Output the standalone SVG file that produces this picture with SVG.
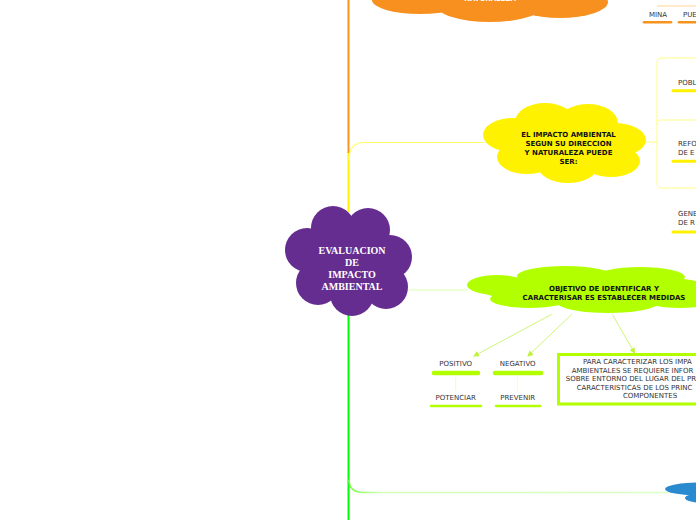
<svg xmlns="http://www.w3.org/2000/svg" width="696" height="520" viewBox="0 0 696 520">
<style>
.lbl{font-family:"DejaVu Sans","Liberation Sans",sans-serif;font-size:7px;fill:#333}
.cl{font-family:"DejaVu Sans","Liberation Sans",sans-serif;font-size:7px;font-weight:bold;fill:#111;text-anchor:middle}
.ctr{font-family:"Liberation Serif",serif;font-size:10px;font-weight:bold;fill:#fff;text-anchor:middle}
.con{fill:none;stroke-linecap:round}
</style>
<defs>
<marker id="ah" markerWidth="6" markerHeight="6" refX="5" refY="3" orient="auto" markerUnits="userSpaceOnUse">
<path d="M0,0 L6,3 L0,6 Z" fill="#bff23a"/>
</marker>
<linearGradient id="gb" x1="0" x2="1" y1="0" y2="0">
<stop offset="0" stop-color="#77ff44"/>
<stop offset="0.1" stop-color="#d4ffb8"/>
<stop offset="1" stop-color="#dcffc8"/>
</linearGradient>
</defs>
<rect width="696" height="520" fill="#fff"/>

<g id="connectors">
<line x1="348.5" y1="0" x2="348.5" y2="153" stroke="#f7941d" stroke-width="2"/>
<line x1="348.5" y1="153" x2="348.5" y2="212" stroke="#fff200" stroke-width="2"/>
<line x1="348.5" y1="312" x2="348.5" y2="520" stroke="#00ff00" stroke-width="2"/>
<path class="con" d="M349,160 Q349,142.5 364,142.5 H484" stroke="#ffff66" stroke-width="1.2"/>
<path class="con" d="M349,480 Q349,492.5 364,492.5 H668" stroke="url(#gb)" stroke-width="1.5"/>
<line x1="408" y1="290" x2="468" y2="290" stroke="#e6ffc8" stroke-width="1.5"/>
<path class="con" d="M646,142 H657 M657,142 V62 Q657,58 661,58 H696 M657,142 V184 Q657,188 661,188 H696 M657,124 Q657,120 661,120 H696" stroke="#ffff88" stroke-width="1"/>
<line x1="657" y1="6" x2="696" y2="6" stroke="#ffe2b8" stroke-width="1.5"/>
<line x1="551.7" y1="314.3" x2="474" y2="356" stroke="#ccf57a" stroke-width="1" marker-end="url(#ah)"/>
<line x1="571.7" y1="314.3" x2="528" y2="356" stroke="#ccf57a" stroke-width="1" marker-end="url(#ah)"/>
<line x1="612.3" y1="314.3" x2="634.5" y2="353" stroke="#ccf57a" stroke-width="1" marker-end="url(#ah)"/>
<line x1="455.7" y1="377" x2="455.7" y2="391" stroke="#e6ffc8" stroke-width="1"/>
<line x1="517.7" y1="377" x2="517.7" y2="391" stroke="#e6ffc8" stroke-width="1"/>
</g>

<g id="node-orange" fill="#f7901e">
<ellipse cx="490" cy="-8" rx="118" ry="22"/>
<ellipse cx="420" cy="0" rx="48" ry="14"/>
<ellipse cx="490" cy="4" rx="55" ry="18"/>
<ellipse cx="560" cy="2" rx="48" ry="16"/>
<text class="cl" x="490" y="1" style="fill:#fff">NATURALEZA</text>
</g>

<g id="node-mina">
<text class="lbl" x="649" y="17">MINA</text>
<line x1="644" y1="22.3" x2="671" y2="22.3" stroke="#f7941d" stroke-width="2.5" stroke-linecap="round"/>
</g>
<g id="node-pue">
<text class="lbl" x="683" y="17">PUE</text>
<line x1="679" y1="22.3" x2="700" y2="22.3" stroke="#f7941d" stroke-width="2.5" stroke-linecap="round"/>
</g>

<g id="node-yellow" fill="#fff200">
<ellipse cx="565" cy="143" rx="62" ry="28"/>
<ellipse cx="545" cy="122" rx="30" ry="19"/>
<ellipse cx="588" cy="123" rx="30" ry="19"/>
<ellipse cx="513" cy="135" rx="30" ry="17"/>
<ellipse cx="614" cy="140" rx="32" ry="17"/>
<ellipse cx="527" cy="157" rx="30" ry="17"/>
<ellipse cx="568" cy="166" rx="30" ry="17"/>
<ellipse cx="611" cy="161" rx="29" ry="16"/>
<text class="cl" x="568.5" y="137">EL IMPACTO AMBIENTAL</text>
<text class="cl" x="568.5" y="146">SEGUN SU DIRECCION</text>
<text class="cl" x="568.5" y="155">Y NATURALEZA PUEDE</text>
<text class="cl" x="568.5" y="164">SER:</text>
</g>

<g id="node-pobl">
<text class="lbl" x="678" y="85">POBL</text>
<line x1="673" y1="90.7" x2="700" y2="90.7" stroke="#fff200" stroke-width="3" stroke-linecap="round"/>
</g>
<g id="node-refo">
<text class="lbl" x="678" y="146">REFO</text>
<text class="lbl" x="678" y="155.3">DE E</text>
<line x1="673" y1="161.3" x2="700" y2="161.3" stroke="#fff200" stroke-width="3" stroke-linecap="round"/>
</g>
<g id="node-gene">
<text class="lbl" x="678" y="216">GENE</text>
<text class="lbl" x="678" y="225.3">DE R</text>
<line x1="673" y1="232" x2="700" y2="232" stroke="#fff200" stroke-width="3" stroke-linecap="round"/>
</g>

<g id="node-center" fill="#662d91">
<circle cx="350" cy="262" r="42"/>
<circle cx="333" cy="228" r="22"/>
<circle cx="368" cy="230" r="22"/>
<circle cx="307" cy="250" r="22"/>
<circle cx="390" cy="257" r="22"/>
<circle cx="318" cy="283" r="22"/>
<circle cx="352" cy="294" r="22"/>
<circle cx="386" cy="287" r="22"/>
<text class="ctr" x="352" y="254">EVALUACION</text>
<text class="ctr" x="352" y="266">DE</text>
<text class="ctr" x="352" y="278">IMPACTO</text>
<text class="ctr" x="352" y="290">AMBIENTAL</text>
</g>

<g id="node-objetivo" fill="#b2ff00">
<ellipse cx="595" cy="289" rx="115" ry="16"/>
<ellipse cx="497" cy="285" rx="30" ry="10"/>
<ellipse cx="565" cy="276" rx="48" ry="10"/>
<ellipse cx="640" cy="277" rx="45" ry="10"/>
<ellipse cx="530" cy="299" rx="40" ry="9"/>
<ellipse cx="608" cy="303" rx="50" ry="10"/>
<ellipse cx="680" cy="298" rx="40" ry="10"/>
<text class="cl" x="604" y="291">OBJETIVO DE IDENTIFICAR Y</text>
<text class="cl" x="604" y="299.5">CARACTERISAR ES ESTABLECER MEDIDAS</text>
</g>

<g id="node-positivo">
<text class="lbl" x="455.7" y="365.5" text-anchor="middle">POSITIVO</text>
<line x1="434" y1="373" x2="478" y2="373" stroke="#b2ff00" stroke-width="4.5" stroke-linecap="round"/>
</g>
<g id="node-negativo">
<text class="lbl" x="517.7" y="365.5" text-anchor="middle">NEGATIVO</text>
<line x1="495" y1="373" x2="541" y2="373" stroke="#b2ff00" stroke-width="4.5" stroke-linecap="round"/>
</g>
<g id="node-potenciar">
<text class="lbl" x="455.7" y="399.5" text-anchor="middle">POTENCIAR</text>
<line x1="431" y1="406" x2="481" y2="406" stroke="#b2ff00" stroke-width="2.5" stroke-linecap="round"/>
</g>
<g id="node-prevenir">
<text class="lbl" x="517.7" y="399.5" text-anchor="middle">PREVENIR</text>
<line x1="496" y1="406" x2="540" y2="406" stroke="#b2ff00" stroke-width="2.5" stroke-linecap="round"/>
</g>

<g id="node-box">
<rect x="558.5" y="354.5" width="150" height="49.5" fill="#fff" stroke="#b2ff00" stroke-width="3"/>
<text class="lbl" x="583" y="363.5">PARA CARACTERIZAR LOS IMPA</text>
<text class="lbl" x="571.7" y="372.5">AMBIENTALES SE REQUIERE INFOR</text>
<text class="lbl" x="565.7" y="381.3">SOBRE ENTORNO DEL LUGAR DEL PR</text>
<text class="lbl" x="576.7" y="390">CARACTERISTICAS DE LOS PRINC</text>
<text class="lbl" x="650" y="398.3" text-anchor="middle">COMPONENTES</text>
</g>

<g id="node-blue" fill="#2a8ad0">
<ellipse cx="700" cy="489" rx="35" ry="6.5"/>
<ellipse cx="705" cy="498" rx="20" ry="5"/>
</g>
</svg>
